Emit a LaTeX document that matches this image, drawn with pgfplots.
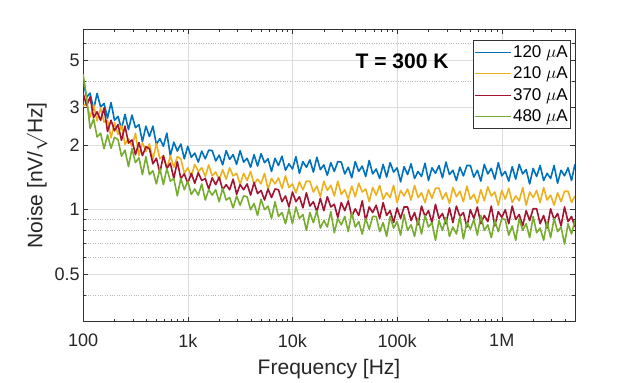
\documentclass[border=0pt]{standalone}
\usepackage{fontspec}
\setmainfont{Liberation Sans}
\usepackage{pgfplots}
\usepackage{pgfplotstable}
\pgfplotsset{compat=1.18}
\definecolor{mblue}{HTML}{0072BD}
\definecolor{myellow}{HTML}{EDB120}
\definecolor{mred}{HTML}{A2142F}
\definecolor{mgreen}{HTML}{77AC30}

% noise spectral density (nV/sqrt(Hz))
% columns: f, 120uA, 210uA, 370uA, 480uA
\pgfplotstableread{
f b y r g
1.000e2 4.01 3.05 3.50 4.30
1.080e2 3.36 3.14 3.07 3.34
1.166e2 3.51 2.71 3.37 2.40
1.259e2 2.94 3.11 2.70 2.66
1.359e2 3.50 2.60 2.87 2.19
1.468e2 3.03 2.99 2.62 2.28
1.585e2 3.14 2.57 2.99 1.93
1.711e2 2.68 2.62 2.32 2.24
1.848e2 3.17 2.17 2.62 1.94
1.995e2 2.62 2.55 2.34 2.18
2.154e2 2.73 2.25 2.50 2.13
2.326e2 2.39 2.49 2.11 1.78
2.512e2 2.79 2.02 2.46 1.90
2.712e2 2.37 2.15 2.05 1.59
2.929e2 2.77 1.98 2.12 1.93
3.162e2 2.42 2.28 1.81 1.66
3.415e2 2.50 1.79 2.06 1.75
3.687e2 2.08 2.06 1.79 1.46
3.981e2 2.46 1.87 1.97 1.77
4.299e2 2.20 2.03 1.93 1.46
4.642e2 2.46 1.72 1.64 1.52
5.012e2 2.02 2.04 1.74 1.32
5.412e2 2.15 1.73 1.49 1.56
5.843e2 1.98 1.79 1.79 1.31
6.310e2 2.28 1.55 1.56 1.56
6.813e2 1.79 1.79 1.65 1.36
7.356e2 2.07 1.58 1.40 1.40
7.943e2 1.88 1.77 1.68 1.16
8.577e2 2.03 1.73 1.40 1.40
9.261e2 1.73 1.48 1.47 1.24
1.000e3 1.98 1.57 1.33 1.36
1.080e3 1.76 1.43 1.48 1.18
1.166e3 1.84 1.63 1.33 1.25
1.259e3 1.67 1.51 1.49 1.17
1.359e3 1.88 1.57 1.37 1.32
1.468e3 1.73 1.43 1.40 1.11
1.585e3 1.90 1.62 1.25 1.24
1.711e3 1.89 1.44 1.41 1.17
1.848e3 1.69 1.50 1.31 1.24
1.995e3 1.80 1.38 1.42 1.09
2.154e3 1.62 1.54 1.24 1.26
2.326e3 1.89 1.39 1.31 1.11
2.512e3 1.72 1.57 1.24 1.14
2.712e3 1.81 1.44 1.39 1.02
2.929e3 1.63 1.48 1.18 1.16
3.162e3 1.89 1.31 1.31 1.05
3.415e3 1.67 1.48 1.24 1.16
3.687e3 1.74 1.37 1.32 1.15
3.981e3 1.58 1.51 1.17 1.00
4.299e3 1.81 1.32 1.34 1.07
4.642e3 1.60 1.39 1.19 0.94
5.012e3 1.83 1.32 1.23 1.12
5.412e3 1.66 1.48 1.11 1.00
5.843e3 1.73 1.25 1.25 1.04
6.310e3 1.51 1.40 1.14 0.91
6.813e3 1.74 1.32 1.25 1.09
7.356e3 1.61 1.41 1.24 0.93
7.943e3 1.78 1.26 1.09 0.97
8.577e3 1.53 1.44 1.16 0.86
9.261e3 1.64 1.27 1.03 1.01
1.000e4 1.55 1.32 1.21 0.86
1.080e4 1.77 1.20 1.09 1.03
1.166e4 1.48 1.35 1.15 0.91
1.259e4 1.68 1.24 1.02 0.95
1.359e4 1.58 1.36 1.20 0.80
1.468e4 1.71 1.36 1.04 0.97
1.585e4 1.50 1.21 1.09 0.87
1.711e4 1.76 1.29 0.98 0.99
1.848e4 1.54 1.15 1.13 0.82
1.995e4 1.62 1.36 0.99 0.89
2.154e4 1.45 1.23 1.15 0.83
2.326e4 1.66 1.30 1.03 0.98
2.512e4 1.51 1.16 1.06 0.78
2.712e4 1.68 1.36 0.92 0.91
2.929e4 1.67 1.18 1.08 0.85
3.162e4 1.47 1.24 0.99 0.93
3.415e4 1.58 1.12 1.10 0.79
3.687e4 1.41 1.29 0.93 0.97
3.981e4 1.68 1.15 1.01 0.83
4.299e4 1.51 1.33 0.94 0.88
4.642e4 1.60 1.21 1.10 0.77
5.012e4 1.43 1.25 0.89 0.91
5.412e4 1.70 1.09 1.03 0.81
5.843e4 1.47 1.27 0.97 0.93
6.310e4 1.55 1.17 1.05 0.93
6.813e4 1.40 1.30 0.91 0.79
7.356e4 1.63 1.12 1.08 0.87
7.943e4 1.42 1.20 0.94 0.75
8.577e4 1.66 1.14 0.99 0.93
9.261e4 1.50 1.30 0.87 0.82
1.000e5 1.57 1.08 1.02 0.88
1.080e5 1.35 1.23 0.91 0.76
1.166e5 1.59 1.16 1.03 0.95
1.259e5 1.46 1.25 1.03 0.80
1.359e5 1.64 1.11 0.89 0.85
1.468e5 1.40 1.30 0.97 0.75
1.585e5 1.51 1.14 0.85 0.91
1.711e5 1.43 1.20 1.04 0.77
1.848e5 1.65 1.08 0.93 0.94
1.995e5 1.37 1.24 0.99 0.83
2.154e5 1.57 1.13 0.87 0.87
2.326e5 1.48 1.26 1.06 0.72
2.512e5 1.61 1.26 0.91 0.89
2.712e5 1.41 1.12 0.96 0.80
2.929e5 1.67 1.20 0.86 0.92
3.162e5 1.46 1.07 1.02 0.75
3.415e5 1.53 1.27 0.87 0.83
3.687e5 1.37 1.15 1.04 0.77
3.981e5 1.58 1.22 0.93 0.93
4.299e5 1.44 1.09 0.97 0.73
4.642e5 1.61 1.29 0.83 0.87
5.012e5 1.61 1.12 1.00 0.81
5.412e5 1.42 1.18 0.91 0.90
5.843e5 1.53 1.07 1.03 0.76
6.310e5 1.36 1.24 0.86 0.94
6.813e5 1.63 1.10 0.94 0.80
7.356e5 1.47 1.28 0.88 0.85
7.943e5 1.56 1.16 1.04 0.74
8.577e5 1.39 1.21 0.84 0.89
9.261e5 1.66 1.05 0.98 0.79
1.000e6 1.44 1.23 0.92 0.91
1.080e6 1.51 1.12 1.00 0.90
1.166e6 1.36 1.26 0.86 0.76
1.259e6 1.59 1.08 1.04 0.84
1.359e6 1.39 1.16 0.90 0.72
1.468e6 1.63 1.10 0.95 0.91
1.585e6 1.47 1.27 0.84 0.80
1.711e6 1.54 1.05 0.99 0.86
1.848e6 1.32 1.21 0.89 0.74
1.995e6 1.56 1.14 1.01 0.93
2.154e6 1.43 1.23 1.01 0.78
2.326e6 1.61 1.08 0.86 0.82
2.512e6 1.37 1.27 0.94 0.72
2.712e6 1.48 1.11 0.82 0.88
2.929e6 1.40 1.17 1.01 0.74
3.162e6 1.61 1.05 0.90 0.91
3.415e6 1.33 1.20 0.96 0.79
3.687e6 1.53 1.09 0.84 0.83
3.981e6 1.44 1.22 1.03 0.69
4.299e6 1.57 1.22 0.88 0.86
4.642e6 1.37 1.08 0.93 0.77
5.000e6 1.63 1.16 0.83 0.89
}\noisedata

\begin{document}
\begin{tikzpicture}
\begin{axis}[
  xmode=log, ymode=log,
  scale only axis, width=491pt, height=292pt,
  xmin=100, xmax=5e6, ymin=0.3, ymax=7,
  xtick={100,1000,10000,100000,1000000},
  xticklabels={100,1k,10k,100k,1M},
  minor xtick={200,300,400,500,600,700,800,900,
               2000,3000,4000,5000,6000,7000,8000,9000,
               20000,30000,40000,50000,60000,70000,80000,90000,
               200000,300000,400000,500000,600000,700000,800000,900000,
               2000000,3000000,4000000},
  ytick={0.5,1,2,3,5},
  yticklabels={0.5,1,2,3,5},
  minor ytick={0.4,0.6,0.7,0.8,0.9,4,6,7},
  xmajorgrids, ymajorgrids, yminorgrids,
  major grid style={color=black!13, line width=0.5pt},
  minor grid style={color=black!28, dotted, line width=0.5pt},
  tick align=inside,
  major tick length=5pt, minor tick length=3pt,
  axis line style={black!80, line width=0.5pt},
  every tick/.style={black!80, line width=0.5pt},
  tick label style={font=\fontsize{18}{20}\selectfont, black!85},
  xticklabel style={yshift=-9pt},
  xlabel={Frequency [Hz]},
  ylabel={Noise [nV/$\surd$Hz]},
  label style={font=\fontsize{21}{24}\selectfont, black!85},
  xlabel style={yshift=-5pt},
  legend style={at={(0.992,0.962)}, anchor=north east,
                draw=black!80, line width=0.5pt, fill=white,
                font=\fontsize{17}{20}\selectfont,
                inner xsep=1pt, inner ysep=3pt, row sep=4pt},
  legend cell align=left,
  legend image code/.code={\draw[#1, line width=0.6pt] (0pt,0pt) -- (36pt,0pt);},
  every axis plot/.append style={line width=1.6pt, line join=round},
]
\addplot[mblue] table[x=f, y=b] {\noisedata};
\addplot[myellow] table[x=f, y=y] {\noisedata};
\addplot[mred] table[x=f, y=r] {\noisedata};
\addplot[mgreen] table[x=f, y=g] {\noisedata};
\legend{120 $\mu$A, 210 $\mu$A, 370 $\mu$A, 480 $\mu$A}
\node[anchor=west, font=\bfseries\fontsize{21}{24}\selectfont]
  at (rel axis cs:0.547,0.889) {T = 300 K};
\end{axis}
\path ([shift={(-83pt,-61pt)}]current axis.south west)
  rectangle ([shift={(60pt,29pt)}]current axis.north east);
\end{tikzpicture}
\end{document}
